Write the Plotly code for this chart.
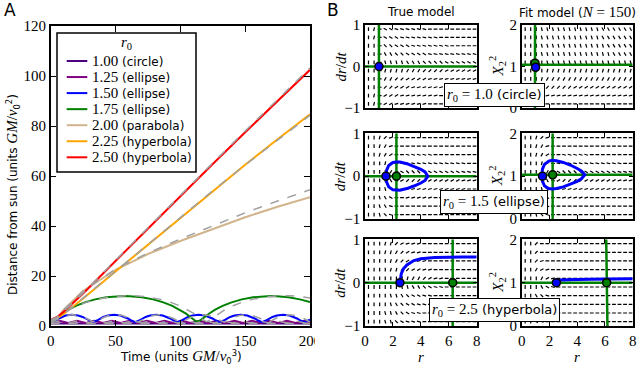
import math
import plotly.graph_objects as go

# ---------------- Panel A: distance from sun vs time ----------------
R0_LABELS = ["1.00", "1.25", "1.50", "1.75", "2.00", "2.25", "2.50"]
ORBIT_TYPES = ["circle", "ellipse", "ellipse", "ellipse", "parabola", "hyperbola", "hyperbola"]

T_CIRCLE = [0, 200]
R_CIRCLE = [1.0, 1.0]
R_CIRCLE_FIT = [1.0, 1.0]

T_125 = [0, 6.75, 13.5, 20.25, 27, 33.75, 40.5, 47.25, 54, 60.75, 67.5, 74.25, 81, 87.75,
         94.5, 101.25, 108, 114.75, 121.5, 128.25, 135, 141.75, 148.5, 155.25, 162, 168.75,
         175.5, 182.25, 189, 195.75, 200]
R_125 = [1.25, 2.08, 1.25, 2.08, 1.25, 2.08, 1.25, 2.08, 1.25, 2.08, 1.25, 2.08, 1.25, 2.08,
         1.25, 2.08, 1.25, 2.08, 1.25, 2.08, 1.25, 2.08, 1.25, 2.08, 1.25, 2.08,
         1.25, 2.08, 1.25, 2.08, 1.6]
T_125_FIT = [0, 7, 14, 21, 28, 35, 42, 49, 56, 63, 70, 77, 84, 91, 98, 105, 112, 119, 126,
             133, 140, 147, 154, 161, 168, 175, 182, 189, 196, 200]
R_125_FIT = [1.25, 2.05, 1.25, 2.05, 1.25, 2.05, 1.25, 2.05, 1.25, 2.05, 1.25, 2.05, 1.25,
             2.05, 1.25, 2.05, 1.25, 2.05, 1.25, 2.05, 1.25, 2.05, 1.25, 2.05, 1.25, 2.05,
             1.25, 2.05, 1.25, 1.6]

T_150 = [0, 3.0, 5.2, 8.0, 11.4, 16.3, 21.2, 24.6, 27.4, 29.6,
         32.6, 35.6, 37.8, 40.6, 44.0, 48.9, 53.8, 57.2, 60.0, 62.2,
         65.2, 68.2, 70.4, 73.2, 76.6, 81.5, 86.4, 89.8, 92.6, 94.8,
         97.8, 100.8, 103.0, 105.8, 109.2, 114.1, 119.0, 122.4, 125.2, 127.4,
         130.4, 133.4, 135.6, 138.4, 141.8, 146.7, 151.6, 155.0, 157.8, 160.0,
         163.0, 166.0, 168.2, 171.0, 174.4, 179.3, 184.2, 187.6, 190.4, 192.6,
         195.6, 198.6, 200]
R_150 = [1.5, 2.19, 2.89, 3.62, 4.2, 4.5, 4.2, 3.62, 2.89, 2.19,
         1.5, 2.19, 2.89, 3.62, 4.2, 4.5, 4.2, 3.62, 2.89, 2.19,
         1.5, 2.19, 2.89, 3.62, 4.2, 4.5, 4.2, 3.62, 2.89, 2.19,
         1.5, 2.19, 2.89, 3.62, 4.2, 4.5, 4.2, 3.62, 2.89, 2.19,
         1.5, 2.19, 2.89, 3.62, 4.2, 4.5, 4.2, 3.62, 2.89, 2.19,
         1.5, 2.19, 2.89, 3.62, 4.2, 4.5, 4.2, 3.62, 2.89, 2.19,
         1.5, 2.19, 2.5]
T_150_FIT = [0, 3.1, 5.4, 8.2, 11.7, 16.8, 21.8, 25.3, 28.1, 30.4,
             33.5, 36.6, 38.9, 41.7, 45.2, 50.3, 55.3, 58.8, 61.6, 63.9,
             67.0, 70.1, 72.4, 75.2, 78.7, 83.8, 88.8, 92.3, 95.1, 97.4,
             100.5, 103.6, 105.9, 108.7, 112.2, 117.3, 122.3, 125.8, 128.6, 130.9,
             134.0, 137.1, 139.4, 142.2, 145.7, 150.8, 155.8, 159.3, 162.1, 164.4,
             167.5, 170.6, 172.9, 175.7, 179.2, 184.3, 189.3, 192.8, 195.6, 197.9, 200]
R_150_FIT = [1.5, 2.19, 2.89, 3.62, 4.2, 4.5, 4.2, 3.62, 2.89, 2.19,
             1.5, 2.19, 2.89, 3.62, 4.2, 4.5, 4.2, 3.62, 2.89, 2.19,
             1.5, 2.19, 2.89, 3.62, 4.2, 4.5, 4.2, 3.62, 2.89, 2.19,
             1.5, 2.19, 2.89, 3.62, 4.2, 4.5, 4.2, 3.62, 2.89, 2.19,
             1.5, 2.19, 2.89, 3.62, 4.2, 4.5, 4.2, 3.62, 2.89, 2.19,
             1.5, 2.19, 2.89, 3.62, 4.2, 4.5, 4.2, 3.62, 2.89, 2.19, 1.6]

T_175 = [0, 1.4, 3.2, 5.7, 9.1, 13.7, 19.4, 26.3, 34.2, 42.9, 52.2, 56.6, 61.0, 70.3, 79.0,
         86.9, 93.8, 99.5, 104.1, 107.5, 110.0, 111.8, 113.2, 114.6, 116.4, 118.9, 122.3,
         126.9, 132.6, 139.5, 147.4, 156.1, 165.4, 169.8, 174.2, 183.5, 192.2, 200]
R_175 = [1.75, 1.98, 2.65, 3.69, 5.02, 6.51, 8.04, 9.46, 10.65, 11.51, 11.95, 12.0, 11.95,
         11.51, 10.65, 9.46, 8.04, 6.51, 5.02, 3.69, 2.65, 1.98, 1.75, 1.98, 2.65, 3.69, 5.02,
         6.51, 8.04, 9.46, 10.65, 11.51, 11.95, 12.0, 11.95, 11.51, 10.65, 9.6]
T_175_FIT = [0, 1.5, 3.4, 6.0, 9.6, 14.5, 20.6, 27.9, 36.3, 45.5, 55.3, 60.0, 64.7, 74.5,
             83.7, 92.1, 99.4, 105.5, 110.4, 114.0, 116.6, 118.5, 120.0, 121.5, 123.4, 126.0,
             129.6, 134.5, 140.6, 147.9, 156.3, 165.5, 175.3, 180.0, 184.7, 194.5, 200]
R_175_FIT = [1.75, 2.0, 2.7, 3.7, 5.05, 6.55, 8.1, 9.55, 10.75, 11.65, 12.1, 12.15, 12.1,
             11.65, 10.75, 9.55, 8.1, 6.55, 5.05, 3.7, 2.7, 2.0, 1.75, 2.0, 2.7, 3.7, 5.05,
             6.55, 8.1, 9.55, 10.75, 11.65, 12.1, 12.15, 12.1, 11.65, 11.2]

T_OPEN = [0, 5, 10, 25, 50, 75, 100, 125, 150, 175, 200]
R_200 = [2.0, 3.2, 6.5, 14.0, 22.5, 28.8, 34.0, 38.8, 43.5, 47.7, 51.5]
R_200_FIT = [2.0, 3.2, 6.5, 14.0, 22.8, 29.2, 34.8, 40.2, 45.3, 50.0, 54.5]
R_225 = [2.25, 3.1, 4.8, 11.0, 21.8, 32.5, 43.3, 54.0, 64.5, 74.7, 84.7]
R_225_FIT = [2.25, 3.1, 4.8, 11.1, 21.9, 32.6, 43.4, 54.1, 64.4, 74.4, 84.3]
R_250 = [2.5, 3.6, 5.7, 13.0, 26.0, 39.0, 52.0, 64.8, 77.5, 90.0, 102.5]
R_250_FIT = [2.5, 3.6, 5.8, 13.2, 26.3, 39.4, 52.4, 65.2, 78.0, 90.6, 103.2]

# ---------------- Panel B: phase portraits ----------------
QUIVER_R = [0.25, 0.65, 1.05, 1.45, 1.85, 2.25, 2.65, 3.05, 3.45, 3.85,
            4.25, 4.65, 5.05, 5.45, 5.85, 6.25, 6.65, 7.05, 7.45, 7.85]
QUIVER_V = [0.9, 0.7, 0.5, 0.3, 0.1, -0.1, -0.3, -0.5, -0.7, -0.9]
QUIVER_X2 = [1.9, 1.7, 1.5, 1.3, 1.1, 0.9, 0.7, 0.5, 0.3, 0.1]
# arrow direction read per cell: a=-90deg ... g=0deg ... m=+90deg (15deg steps)
FIELD_TRUE_1 = ["mlgeeffffffggggggggg", "mlgeeefffffffggggggg", "mmgddeeefffffffggggg",
                "mmgccddeeeefffffffff", "mmgbbbbcccddddeeeeee", "mmgllllkkkjjjjiiiiii",
                "mmgkkjjiiiihhhhhhhhh", "mmgjjiiihhhhhhhggggg", "mlgiiihhhhhhhggggggg",
                "mlgiihhhhhhggggggggg"]
FIELD_TRUE_2 = ["mmljhggggggggggggggg", "mmlkhggggggggggggggg", "mmlkiggfffffgggggggg",
                "mmmligffffffffffffgg", "mmmmkheddddeeeeeefff", "mmmmcfijjjjiiiiiihhh",
                "mmmbeghhhhhhhhhhhhgg", "mmbcegghhhhhgggggggg", "mmbcfggggggggggggggg",
                "mmbdfggggggggggggggg"]
FIELD_TRUE_3 = ["mmmlljihhhgggggggggg", "mmmllkjihhgggggggggg", "mmmmlkjiihhggggggggg",
                "mmmmllkjiihhgggggggg", "mmmmmmllkkjihhgggggg", "mmmmmmbbccdeffgggggg",
                "mmmmbbcdeeffgggggggg", "mmmmbcdeeffggggggggg", "mmmbbcdeffgggggggggg",
                "mmmbbdefffgggggggggg"]
FIELD_FIT_1 = ["mmmbbbbbbbbbbbcccccc", "mmmbbbbbbbbbbbcccccc", "mmmbbbbbbbbbbbbccccc",
               "mmmbbbbbbbbbbbbbcccc", "mmmmbbbbbbbbbbbbbbbb", "mmmmllllllllllllllll",
               "mmmlkkkkkkkkkkkkkkkk", "mmmkjjjjjiiiiiiiiiii", "mmmihhhhhhhhhhhhhhhh",
               "mmmhgggggggggggggggg"]
FIELD_FIT_2 = ["mmljhggggggggggggggg", "mmlkhggggggggggggggg", "mmlkiggfffffgggggggg",
               "mmmligffffffffffffgg", "mmmmkheddddeeeeeefff", "mmmmcfijjjjiiiiiihhh",
               "mmmbeghhhhhhhhhhhhgg", "mmbcegghhhhhgggggggg", "mmbcfggggggggggggggg",
               "mmbdfggggggggggggggg"]
FIELD_FIT_3 = ["mmjggggggggggggggggg", "mmjggggggggggggggggg", "mmjhgggggggggggggggg",
               "mmkihggggggggggggggg", "mmmkihgggggggggggggg", "mmmcefgggggggggggggg",
               "mmcdfggggggggggggggg", "mmcdfggggggggggggggg", "mmdfgggggggggggggggg",
               "mmefgggggggggggggggg"]

LOOP_R = [1.5, 1.55, 1.7, 2.0, 2.25, 2.5, 3.0, 3.5, 4.0, 4.3, 4.5,
          4.3, 4.0, 3.5, 3.0, 2.5, 2.25, 2.0, 1.7, 1.55, 1.5]
LOOP_V = [0, 0.14, 0.25, 0.32, 0.33, 0.33, 0.29, 0.23, 0.16, 0.10, 0,
          -0.10, -0.16, -0.23, -0.29, -0.33, -0.33, -0.32, -0.25, -0.14, 0]
FIT_LOOP_R = [1.45, 1.5, 1.65, 1.95, 2.2, 2.5, 3.0, 3.5, 4.0, 4.3, 4.55,
              4.3, 4.0, 3.5, 3.0, 2.5, 2.2, 1.95, 1.65, 1.5, 1.45]
FIT_LOOP_X2 = [1.03, 1.17, 1.28, 1.35, 1.37, 1.36, 1.32, 1.26, 1.18, 1.12, 1.03,
               0.94, 0.88, 0.81, 0.75, 0.71, 0.70, 0.71, 0.77, 0.88, 1.03]
HYP_R = [2.5, 2.52, 2.6, 2.75, 3.0, 3.5, 4.0, 5.0, 6.0, 7.0, 8.0]
HYP_V = [0, 0.09, 0.21, 0.32, 0.41, 0.51, 0.55, 0.58, 0.59, 0.59, 0.59]
FIT_HYP_R = [2.5, 2.6, 2.8, 3.2, 4.0, 5.0, 6.0, 7.0, 8.0]
FIT_HYP_X2 = [1.0, 1.04, 1.06, 1.07, 1.075, 1.08, 1.085, 1.09, 1.09]

START_R = [1.0, 1.5, 2.5]
START_X2 = [0.98, 1.0, 1.0]
FIXED_R_TRUE = [1.0, 2.25, 6.28]
FIXED_R_FIT = [0.96, 2.23, 6.12]
FIXED_X2_FIT = [1.04, 1.03, 1.0]
ANNOT_R0 = ["1.0", "1.5", "2.5"]
ANNOT_KIND = ["circle", "ellipse", "hyperbola"]

# ---------------- layout helpers ----------------
W, H = 640, 370
SERIF = "Liberation Serif"
SANS = "DejaVu Sans"
COLORS = ["#4b0082", "#800080", "#0000ff", "#008000", "#d2b48c", "#ffa500", "#ff0000"]
GREY = "#a0a0a0"
GREEN = "#008000"
CODES = "abcdefghijklm"


def px(x):
    return x / W


def py(y):
    return 1 - y / H


def serif(s, size=15):
    return f"<span style='font-family:{SERIF};font-size:{size}px'>{s}</span>"


A_BOX = (50.7, 310.0, 26.0, 326.0)
B_COLS = [(365.0, 476.7), (521.7, 632.7)]
B_ROWS = [(25.0, 108.0), (133.3, 219.0), (239.3, 326.0)]

fig = go.Figure()


def line(x, y, xa, ya, color, width, dash="solid"):
    fig.add_trace(go.Scatter(x=x, y=y, mode="lines", xaxis=xa, yaxis=ya,
                             showlegend=False, hoverinfo="skip",
                             line=dict(color=color, width=width, dash=dash)))


# Panel A
solid = [(T_CIRCLE, R_CIRCLE), (T_125, R_125), (T_150, R_150), (T_175, R_175),
         (T_OPEN, R_200), (T_OPEN, R_225), (T_OPEN, R_250)]
dashed = [(T_CIRCLE, R_CIRCLE_FIT), (T_125_FIT, R_125_FIT), (T_150_FIT, R_150_FIT),
          (T_175_FIT, R_175_FIT), (T_OPEN, R_200_FIT), (T_OPEN, R_225_FIT), (T_OPEN, R_250_FIT)]
for i, (t, r) in enumerate(solid):
    line(t, r, "x", "y", COLORS[i], 2)
for t, r in dashed:
    line(t, r, "x", "y", GREY, 1.5, dash="dash")


def quiver(field, ys, xa, ya, col, row):
    sx = (B_COLS[col][1] - B_COLS[col][0]) / 8
    sy = (B_ROWS[row][1] - B_ROWS[row][0]) / 2
    half = 1.9
    xs, yy = [], []
    for yv, codes in zip(ys, field):
        for xv, ch in zip(QUIVER_R, codes):
            ang = math.radians((CODES.index(ch) - 6) * 15)
            dx = half * math.cos(ang) / sx
            dy = half * math.sin(ang) / sy
            xs += [xv - dx, xv + dx, None]
            yy += [yv - dy, yv + dy, None]
    line(xs, yy, xa, ya, "black", 1.2)


def dot(x, y, xa, ya, color):
    fig.add_trace(go.Scatter(x=[x], y=[y], mode="markers", xaxis=xa, yaxis=ya,
                             showlegend=False, hoverinfo="skip",
                             marker=dict(color=color, size=8, line=dict(color="black", width=1.5))))


true_fields = [FIELD_TRUE_1, FIELD_TRUE_2, FIELD_TRUE_3]
fit_fields = [FIELD_FIT_1, FIELD_FIT_2, FIELD_FIT_3]
for row in range(3):
    n_l = 2 + 2 * row
    n_r = 3 + 2 * row
    xl, yl = f"x{n_l}", f"y{n_l}"
    xr, yr = f"x{n_r}", f"y{n_r}"
    quiver(true_fields[row], QUIVER_V, xl, yl, 0, row)
    line([FIXED_R_TRUE[row]] * 2, [-1, 1], xl, yl, GREEN, 2.5)
    line([0, 8], [0, 0], xl, yl, GREEN, 2.5)
    quiver(fit_fields[row], QUIVER_X2, xr, yr, 1, row)
    if row == 2:
        line([FIXED_R_FIT[row] - 0.03, FIXED_R_FIT[row], FIXED_R_FIT[row] + 0.06], [2, 1, 0],
             xr, yr, GREEN, 2.5)
    else:
        line([FIXED_R_FIT[row]] * 2, [0, 2], xr, yr, GREEN, 2.5)
    line([0, 8], [FIXED_X2_FIT[row]] * 2, xr, yr, GREEN, 2.5)

line(LOOP_R, LOOP_V, "x4", "y4", "#0000ff", 3)
line(FIT_LOOP_R, FIT_LOOP_X2, "x5", "y5", "#0000ff", 3)
line(HYP_R, HYP_V, "x6", "y6", "#0000ff", 3)
line(FIT_HYP_R, FIT_HYP_X2, "x7", "y7", "#0000ff", 3)

for row in range(3):
    n_l = 2 + 2 * row
    n_r = 3 + 2 * row
    if row > 0:
        dot(FIXED_R_TRUE[row], 0, f"x{n_l}", f"y{n_l}", GREEN)
        dot(FIXED_R_FIT[row], FIXED_X2_FIT[row], f"x{n_r}", f"y{n_r}", GREEN)
    else:
        dot(FIXED_R_FIT[row], FIXED_X2_FIT[row] + 0.04, f"x{n_r}", f"y{n_r}", GREEN)
    dot(START_R[row], 0, f"x{n_l}", f"y{n_l}", "#0000ff")
    dot(START_R[row], START_X2[row], f"x{n_r}", f"y{n_r}", "#0000ff")

# ---------------- axes ----------------
tickfont = dict(family=SERIF, size=15, color="black")
base = dict(showline=True, linecolor="black", linewidth=1.5, mirror="allticks",
            ticks="inside", ticklen=4, tickwidth=1, tickcolor="black", automargin=False,
            showgrid=False, zeroline=False, tickfont=tickfont, fixedrange=True)

layout_axes = {
    "xaxis": dict(base, domain=[px(A_BOX[0]), px(A_BOX[1])], range=[0, 200], anchor="y",
                  tickvals=[0, 50, 100, 150, 200], ticklen=6),
    "yaxis": dict(base, domain=[py(A_BOX[3]), py(A_BOX[2])], range=[0, 120], anchor="x",
                  tickvals=[0, 20, 40, 60, 80, 100, 120], ticklen=6),
}
for row in range(3):
    for col in range(2):
        n = 2 + 2 * row + col
        x0, x1 = B_COLS[col]
        y0, y1 = B_ROWS[row]
        if col == 0:
            yr, tv, tt = [-1, 1], [-1, 0, 1], ["\u22121", "0", "1"]
        else:
            yr, tv, tt = [0, 2], [0, 1, 2], ["0", "1", "2"]
        layout_axes[f"xaxis{n}"] = dict(base, domain=[px(x0), px(x1)], range=[0, 8],
                                        anchor=f"y{n}", tickvals=[0, 2, 4, 6, 8],
                                        showticklabels=(row == 2))
        layout_axes[f"yaxis{n}"] = dict(base, domain=[py(y1), py(y0)], range=yr,
                                        anchor=f"x{n}", tickvals=tv, ticktext=tt)


# ---------------- text ----------------
def text(x, y, s, size=12, family=SANS, angle=0, xanchor="center", **kw):
    return dict(x=px(x), y=py(y), xref="paper", yref="paper", text=s, showarrow=False,
                textangle=angle, xanchor=xanchor, yanchor="middle",
                font=dict(family=family, size=size, color="black"), **kw)


gm2 = serif("<i>GM</i>/<i>v</i>") + "<sub>0</sub><sup>2</sup>"
gm3 = serif("<i>GM</i>/<i>v</i>") + "<sub>0</sub><sup>3</sup>"
annotations = [
    text(10, 10, "A", size=17),
    text(333, 10, "B", size=17),
    text(13, 195, "Distance from sun (units " + gm2 + ")", angle=-90),
    text(181, 357, "Time (units " + gm3 + ")"),
    text(421, 12, "True model"),
    text(577, 12, "Fit model (" + serif("<i>N</i> = 150") + ")"),
    text(421, 357, "<i>r</i>", family=SERIF, size=15),
    text(577, 357, "<i>r</i>", family=SERIF, size=15),
]
for row in range(3):
    yc = (B_ROWS[row][0] + B_ROWS[row][1]) / 2
    annotations.append(text(340, yc, "<i>dr</i>/<i>dt</i>", family=SERIF, size=15, angle=-90))
    annotations.append(text(497, yc, "<i>X</i><sub>2</sub><sup>2</sup>", family=SERIF,
                            size=15, angle=-90))
ANNOT_Y = [95, 202, 310]
for row in range(3):
    annotations.append(text(494, ANNOT_Y[row],
                            serif(f"<i>r</i><sub>0</sub> = {ANNOT_R0[row]}") +
                            f" ({ANNOT_KIND[row]})",
                            size=13, bgcolor="white", bordercolor="black", borderwidth=1,
                            borderpad=2))

# legend of panel A (box, title, line samples, labels)
LEG_BOX = (57, 196, 33, 172)
LEG_Y0, LEG_DY = 61, 16.05
shapes = [dict(type="rect", xref="paper", yref="paper", x0=px(LEG_BOX[0]), x1=px(LEG_BOX[1]),
               y0=py(LEG_BOX[3]), y1=py(LEG_BOX[2]), fillcolor="white",
               line=dict(color="black", width=1.5), layer="above")]
annotations.append(text(126.5, 43, "<i>r</i><sub>0</sub>", family=SERIF, size=15))
for i in range(len(R0_LABELS)):
    yy = LEG_Y0 + LEG_DY * i
    shapes.append(dict(type="line", xref="paper", yref="paper", x0=px(66.7), x1=px(87.3),
                       y0=py(yy), y1=py(yy), line=dict(color=COLORS[i], width=2),
                       layer="above"))
    annotations.append(text(90, yy, serif(R0_LABELS[i]) + f" ({ORBIT_TYPES[i]})",
                            size=12, xanchor="left"))

# the last digit of the "200" tick is hidden under panel B in the reference
shapes.append(dict(type="rect", xref="paper", yref="paper", x0=px(315), x1=px(334),
                   y0=py(346), y1=py(329), fillcolor="white", line=dict(width=0),
                   layer="above"))

fig.update_layout(
    width=W, height=H, margin=dict(l=0, r=0, t=0, b=0),
    paper_bgcolor="white", plot_bgcolor="white", showlegend=False,
    annotations=annotations, shapes=shapes,
    **layout_axes,
)

fig.write_html("out.html", config={"displayModeBar": False},
               post_script="document.body.style.margin = '0';")
